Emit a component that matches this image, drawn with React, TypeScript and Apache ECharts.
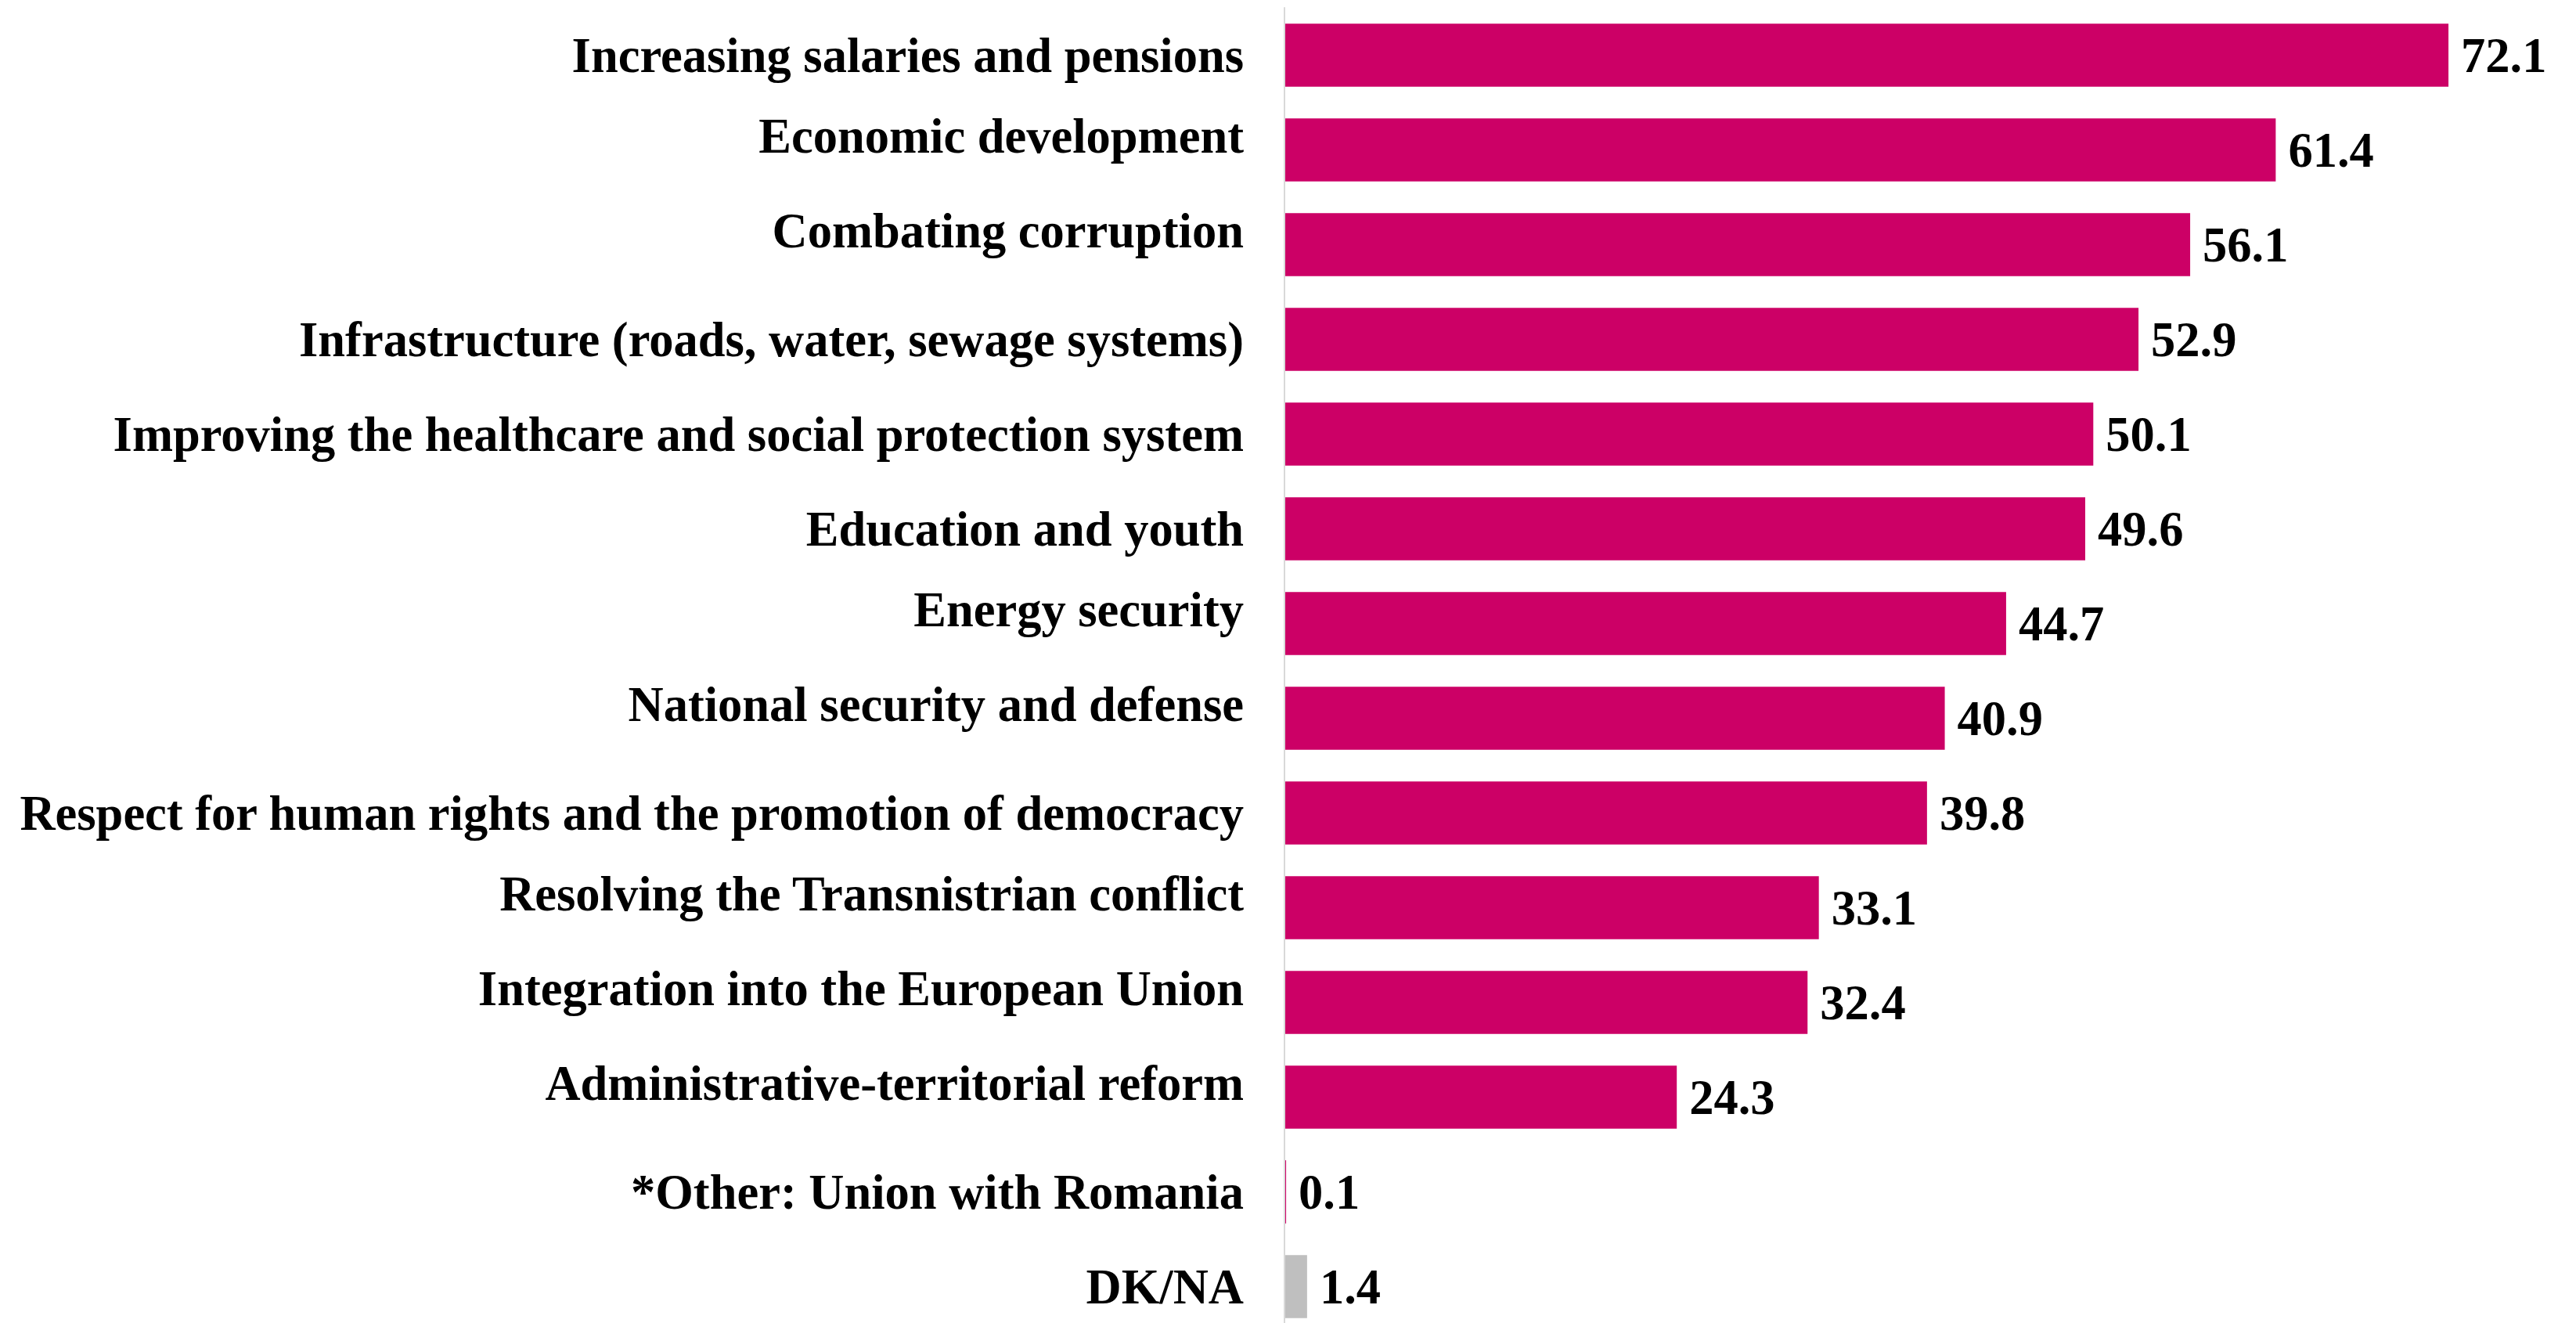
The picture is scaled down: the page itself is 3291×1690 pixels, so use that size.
import React, { useEffect, useRef } from "react";
import * as echarts from "echarts";

// Priority areas, listed top to bottom
const categories: string[] = [
  "Increasing salaries and pensions",
  "Economic development",
  "Combating corruption",
  "Infrastructure (roads, water, sewage systems)",
  "Improving the healthcare and social protection system",
  "Education and youth",
  "Energy security",
  "National security and defense",
  "Respect for human rights and the promotion of democracy",
  "Resolving the Transnistrian conflict",
  "Integration into the European Union",
  "Administrative-territorial reform",
  "*Other: Union with Romania",
  "DK/NA",
];

// Share of respondents, %
const values: number[] = [72.1, 61.4, 56.1, 52.9, 50.1, 49.6, 44.7, 40.9, 39.8, 33.1, 32.4, 24.3, 0.1, 1.4];

// Categories drawn in the neutral colour
const neutralCategories: string[] = ["DK/NA"];

// Category labels that sit slightly above their bar
const raisedLabels: string[] = [
  "Economic development",
  "Combating corruption",
  "Energy security",
  "National security and defense",
  "Resolving the Transnistrian conflict",
  "Integration into the European Union",
  "Administrative-territorial reform",
];

const FONT = "'Liberation Serif', 'Times New Roman', serif";
const FONT_SIZE = 62.5;
const MAIN = "#CC0066";
const NEUTRAL = "#BFBFBF";

export default function App() {
  const ref = useRef<HTMLDivElement>(null);

  useEffect(() => {
    if (!ref.current) return;
    const chart = echarts.init(ref.current, null, { renderer: "svg" });

    const labelFont = {
      fontFamily: FONT,
      fontSize: FONT_SIZE,
      fontWeight: "bold" as const,
      color: "#000",
    };

    chart.setOption({
      animation: false,
      backgroundColor: "#fff",
      grid: {
        left: 1641,
        right: 0,
        top: 10,
        height: 1694,
        containLabel: false,
        outerBoundsMode: "none",
      },
      xAxis: {
        type: "value",
        min: 0,
        max: 80,
        show: false,
      },
      yAxis: {
        type: "category",
        inverse: true,
        z: 3,
        data: categories,
        axisLine: { show: true, lineStyle: { color: "#D9D9D9", width: 2 } },
        axisTick: { show: false },
        splitLine: { show: false },
        axisLabel: {
          ...labelFont,
          margin: 52,
          formatter: (v: string) => (raisedLabels.includes(v) ? `{up|${v}}` : `{n|${v}}`),
          rich: {
            up: { ...labelFont, padding: [0, 0, 35, 0] },
            n: { ...labelFont },
          },
        },
      },
      series: [
        {
          type: "bar",
          barWidth: "66.7%",
          data: values.map((v, i) => ({
            value: v,
            itemStyle: { color: neutralCategories.includes(categories[i]) ? NEUTRAL : MAIN },
          })),
          label: {
            show: true,
            position: "right",
            distance: 16,
            ...labelFont,
            formatter: (p: any) => Number(p.value).toFixed(1),
          },
        },
      ],
    });

    return () => chart.dispose();
  }, []);

  return (
    <div
      ref={ref}
      style={{ position: "fixed", left: 0, top: 0, width: 3291, height: 1690, background: "#fff" }}
    />
  );
}
